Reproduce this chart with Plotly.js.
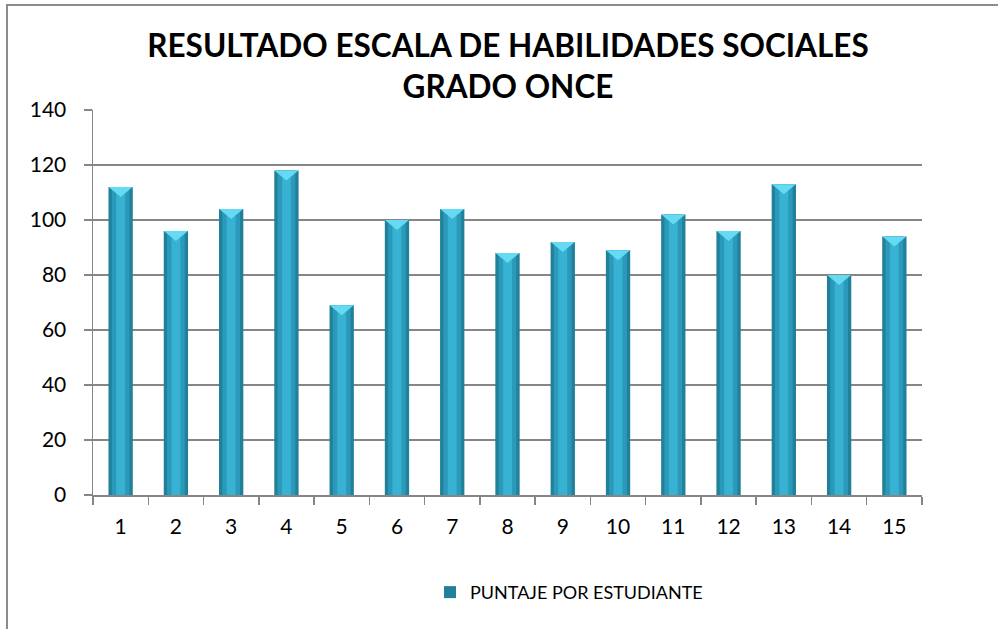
<!DOCTYPE html>
<html>
<head>
<meta charset="utf-8">
<script src="https://cdn.plot.ly/plotly-3.0.1.min.js"></script>
<style>
  html, body { margin: 0; padding: 0; background: #fff; }
  #wrap { position: relative; width: 998px; height: 629px; }
  #chart { position: absolute; left: 0; top: 0; width: 998px; height: 629px; }
  #frame { position: absolute; left: 6px; top: 4px; right: -10px; bottom: -10px;
           border-left: 2px solid #8c8c8c; border-top: 2px solid #8c8c8c; pointer-events: none; }
</style>
</head>
<body>
<div id="wrap">
  <div id="chart"></div>
  <div id="frame"></div>
</div>
<script>
const categories = ['1','2','3','4','5','6','7','8','9','10','11','12','13','14','15'];
const puntajes = [112, 96, 104, 118, 69, 100, 104, 88, 92, 89, 102, 96, 113, 80, 94];
const seriesName = 'PUNTAJE POR ESTUDIANTE';
const yTicks = [0, 20, 40, 60, 80, 100, 120, 140];
const titleText = 'RESULTADO ESCALA DE HABILIDADES SOCIALES<br>GRADO ONCE';

const FONT = 'Lato, "Open Sans", sans-serif';

const traces = [
  { type: 'bar', x: categories, y: puntajes, name: seriesName, width: 0.44,
    marker: { color: '#21809a', line: { width: 0 } }, showlegend: true, hoverinfo: 'y' },
  { type: 'bar', x: categories, y: puntajes, width: 0.32,
    marker: { color: '#2b9aba', line: { width: 0 } }, showlegend: false, hoverinfo: 'skip' },
  { type: 'bar', x: categories, y: puntajes, width: 0.16,
    marker: { color: '#38b2d2', line: { width: 0 } }, showlegend: false, hoverinfo: 'skip' }
];

const shapes = categories.map((c, i) => ({
  type: 'path', xref: 'x', yref: 'y',
  xsizemode: 'pixel', ysizemode: 'pixel',
  xanchor: i, yanchor: puntajes[i],
  path: 'M-12,0 L12,0 L0,-10 Z',
  fillcolor: '#66daf2', line: { width: 0 }, layer: 'above'
}));

const layout = {
  width: 998, height: 629,
  margin: { l: 93, r: 76, t: 110, b: 134 },
  paper_bgcolor: '#ffffff', plot_bgcolor: '#ffffff',
  barmode: 'overlay',
  font: { family: FONT, color: '#000000' },
  title: {
    text: titleText,
    font: { family: FONT, size: 31.5, weight: 'bold', color: '#000000' },
    x: 0.509, xref: 'container', xanchor: 'center',
    y: 1 - 57 / 629, yref: 'container', yanchor: 'top'
  },
  xaxis: {
    type: 'category', tickson: 'boundaries',
    ticks: 'outside', ticklen: 8, tickcolor: '#868686', tickwidth: 1.5,
    showline: true, linecolor: '#868686', linewidth: 1.5,
    showgrid: false, tickfont: { family: FONT, size: 21, color: '#000' },
    ticklabelstandoff: 12, fixedrange: true
  },
  yaxis: {
    range: [0, 140], tickvals: yTicks, ticktext: yTicks.map(String),
    ticks: 'outside', ticklen: 8, tickcolor: '#868686', tickwidth: 1.5,
    showline: true, linecolor: '#868686', linewidth: 1.5,
    showgrid: true, gridcolor: '#868686', gridwidth: 1.5, zeroline: false,
    tickfont: { family: FONT, size: 21, color: '#000' },
    ticklabelstandoff: 13, fixedrange: true
  },
  legend: {
    orientation: 'h', x: 0.4065, xanchor: 'left', y: -0.253, yanchor: 'middle',
    font: { family: FONT, size: 18, color: '#000' }, bgcolor: 'rgba(0,0,0,0)'
  },
  shapes: shapes,
  bargap: 0.5
};

Plotly.newPlot('chart', traces, layout, { displayModeBar: false, staticPlot: true });
</script>
</body>
</html>
